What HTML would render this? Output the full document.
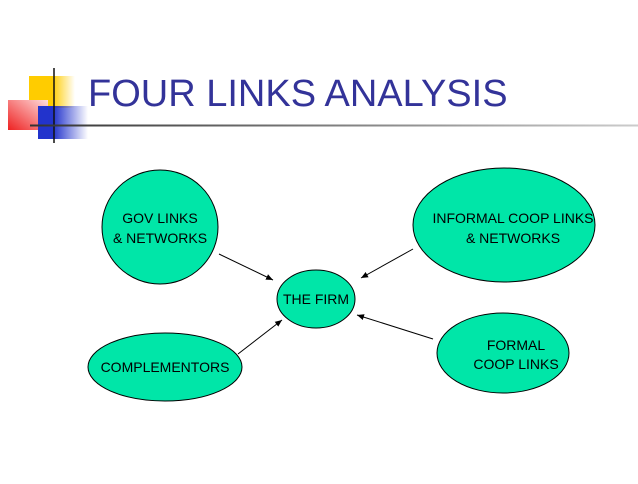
<!DOCTYPE html>
<html><head><style>
body{margin:0;width:638px;height:479px;background:#fff;overflow:hidden;font-family:"Liberation Sans",sans-serif;}
</style></head><body>
<svg width="638" height="479" xmlns="http://www.w3.org/2000/svg" font-family="Liberation Sans, sans-serif">
<defs>
<linearGradient id="y" x1="0" x2="1"><stop offset="0.5" stop-color="#ffcc00"/><stop offset="1" stop-color="#ffcc00" stop-opacity="0"/></linearGradient>
<linearGradient id="r" x1="1" y1="0" x2="0" y2="1"><stop offset="0" stop-color="#ffdddd"/><stop offset="1" stop-color="#ee2222"/></linearGradient>
<linearGradient id="b" x1="0" x2="1"><stop offset="0.3" stop-color="#2233cc"/><stop offset="1" stop-color="#2233cc" stop-opacity="0"/></linearGradient>
<linearGradient id="l" x1="0" x2="1"><stop offset="0" stop-color="#333"/><stop offset="1" stop-color="#ccc"/></linearGradient>
<marker id="a" markerWidth="8" markerHeight="8" refX="7" refY="4" orient="auto" markerUnits="userSpaceOnUse"><path d="M0,1 L7,4 L0,7 z" fill="#000"/></marker>
</defs>
<rect x="29" y="76" width="46" height="32" fill="url(#y)"/>
<rect x="8" y="100" width="40" height="30" fill="url(#r)"/>
<rect x="38" y="106" width="50" height="33" fill="url(#b)"/>
<line x1="54" y1="68" x2="54" y2="143" stroke="#111" stroke-width="1.5"/>
<rect x="30" y="124.5" width="608" height="2" fill="url(#l)"/>
<text x="88" y="106" font-size="38" fill="#333399">FOUR LINKS ANALYSIS</text>
<g fill="#00e6a8" stroke="#000" stroke-width="1">
<ellipse cx="160" cy="227" rx="58" ry="57"/>
<ellipse cx="504" cy="225" rx="91" ry="57"/>
<ellipse cx="316" cy="299" rx="39" ry="29"/>
<ellipse cx="165" cy="367" rx="77" ry="34"/>
<ellipse cx="503" cy="353" rx="66" ry="40"/>
</g>
<g stroke="#000" stroke-width="1" marker-end="url(#a)">
<line x1="219" y1="254" x2="273" y2="280"/>
<line x1="413" y1="249" x2="361" y2="278"/>
<line x1="238" y1="354" x2="282" y2="320"/>
<line x1="433" y1="339" x2="357" y2="315"/>
</g>
<g font-size="14" fill="#000" text-anchor="middle">
<text x="160" y="223">GOV LINKS</text>
<text x="160" y="243">&amp; NETWORKS</text>
<text x="513" y="223">INFORMAL COOP LINKS</text>
<text x="513" y="243">&amp; NETWORKS</text>
<text x="316" y="304">THE FIRM</text>
<text x="165" y="372">COMPLEMENTORS</text>
<text x="516" y="350">FORMAL</text>
<text x="516" y="369">COOP LINKS</text>
</g>
</svg>
</body></html>
